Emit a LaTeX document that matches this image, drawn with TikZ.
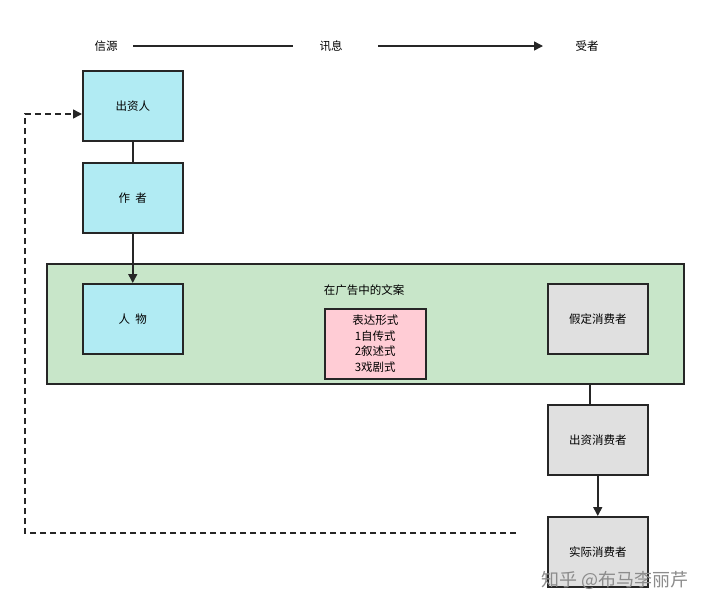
\documentclass[tikz,border=0pt]{standalone}
\usepackage{fontspec}
\setmainfont{Noto Sans CJK SC}
\usetikzlibrary{arrows.meta}
\definecolor{cy}{HTML}{B1EBF3}
\definecolor{gr}{HTML}{C8E6C9}
\definecolor{pk}{HTML}{FFCCD5}
\definecolor{gy}{HTML}{E0E0E0}
\begin{document}
\begin{tikzpicture}[x=1pt,y=-1pt,
  box/.style={draw=black!85,line width=1.5pt,minimum width=100pt,minimum height=70pt,anchor=north west,font=\fontsize{11.5}{13}\selectfont},
  lbl/.style={font=\fontsize{11.5}{13}\selectfont},
  arr/.style={-{Triangle[length=9pt,width=9pt]},line width=1.5pt,draw=black!85}]
\useasboundingbox (0,0) rectangle (708,611);
\node[lbl] (src) at (106,46) {信源};
\node[lbl] (msg) at (331,46) {讯息};
\node[lbl] (rcv) at (587,46) {受者};
\draw[line width=1.5pt,black!85] (133,46) -- (293,46);
\draw[arr] (378,46) -- (543,46);
\node[box,fill=cy] (fund) at (82,70) {出资人};
\node[box,fill=cy] (auth) at (82,162) {作\ \ 者};
\node[draw=black!85,line width=1.5pt,fill=gr,minimum width=637pt,minimum height=120pt,anchor=north west] (ad) at (46,263) {};
\node[lbl] (adt) at (364,290) {在广告中的文案};
\node[box,fill=cy] (char) at (82,283) {人\ \ 物};
\node[box,fill=pk,minimum width=101pt,align=center,font=\fontsize{11.5}{15.5}\selectfont] (form) at (324,308) {表达形式\\1自传式\\2叙述式\\3戏剧式};
\node[box,fill=gy] (ass) at (547,283) {假定消费者};
\node[box,fill=gy] (fc) at (547,404) {出资消费者};
\node[box,fill=gy] (rc) at (547,516) {实际消费者};
\draw[line width=1.5pt,black!85] (fund.south) -- (auth.north);
\draw[arr] (auth.south) -- (char.north);
\coordinate (t1) at (590,383);
\draw[line width=1.5pt,black!85] (t1) -- (t1 |- fc.north);
\draw[arr] (fc.south) -- (rc.north);
\coordinate (d0) at (516,533);
\coordinate (d1) at (25,533);
\coordinate (d2) at (25,114);
\draw[arr,dash pattern=on 6pt off 4pt] (d0) -- (d1) -- (d2) -- (fund.west |- d2);
\node[font=\fontsize{18}{20}\selectfont,text=black!45,anchor=east] (wm) at (692,580) {知乎 @布马李丽芹};
\end{tikzpicture}
\end{document}
